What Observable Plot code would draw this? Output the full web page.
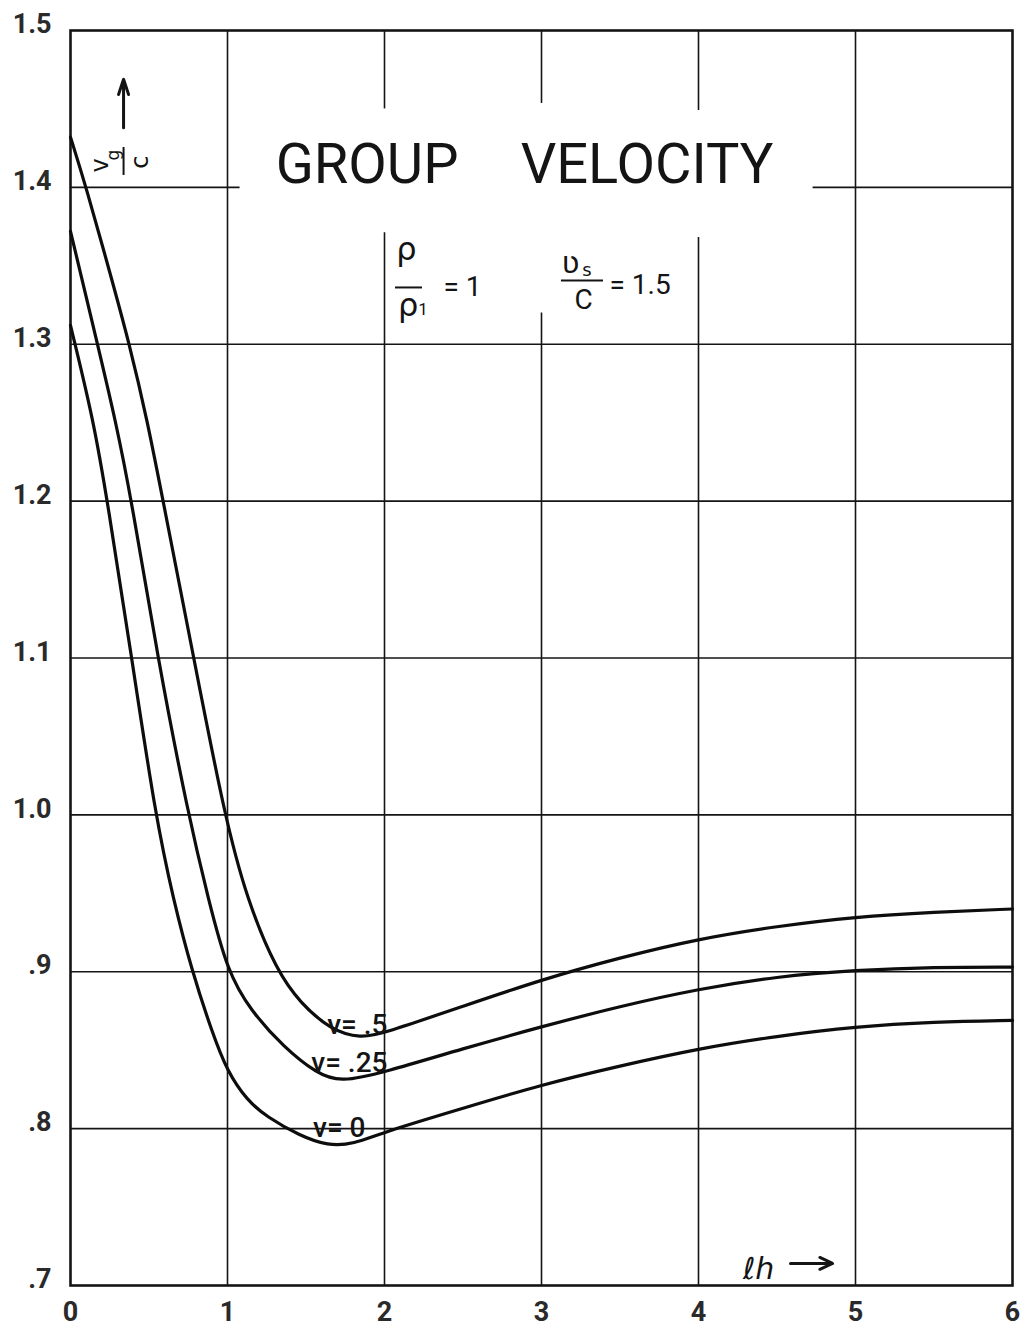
<!DOCTYPE html>
<html>
<head>
<meta charset="utf-8">
<script src="https://cdn.jsdelivr.net/npm/d3@7"></script>
<script src="https://cdn.jsdelivr.net/npm/@observablehq/plot@0.6"></script>
<style>
  html, body { margin: 0; padding: 0; background: #fff; }
  #chart svg { display: block; }
</style>
</head>
<body>
<div id="chart"></div>
<script>
// ---- data ----
const nu05X = [0, 0.1, 0.25, 0.376, 0.49, 0.59, 0.785, 0.98, 1.125, 1.316, 1.465, 1.656, 1.85, 2.0, 2.5, 3.0, 3.5, 4.0, 4.5, 5.0, 5.5, 6.0];
const nu05Y = [1.432, 1.40, 1.346, 1.30, 1.251, 1.20, 1.10, 1.00, 0.9455, 0.90, 0.88, 0.863, 0.8575, 0.861, 0.878, 0.895, 0.909, 0.921, 0.929, 0.935, 0.938, 0.940];

const nu025X = [0, 0.172, 0.287, 0.39, 0.555, 0.75, 0.88, 1.0, 1.146, 1.357, 1.57, 1.72, 2.0, 2.5, 3.0, 3.5, 4.0, 4.5, 5.0, 5.5, 6.0];
const nu025Y = [1.372, 1.30, 1.2514, 1.20, 1.10, 1.00, 0.9455, 0.90, 0.8754, 0.852, 0.835, 0.8295, 0.836, 0.851, 0.865, 0.878, 0.889, 0.897, 0.901, 0.903, 0.903];

const nu0X = [0, 0.147, 0.235, 0.39, 0.54, 0.656, 0.775, 0.9, 1.0, 1.125, 1.25, 1.46, 1.64, 1.8, 2.0, 2.5, 3.0, 3.5, 4.0, 4.5, 5.0, 5.5, 6.0];
const nu0Y = [1.312, 1.2514, 1.20, 1.10, 1.00, 0.9455, 0.90, 0.862, 0.836, 0.818, 0.8075, 0.7955, 0.789, 0.790, 0.798, 0.813, 0.828, 0.840, 0.851, 0.859, 0.865, 0.868, 0.869];

const xTicks = [0, 1, 2, 3, 4, 5, 6];
const yTicks = [0.7, 0.8, 0.9, 1.0, 1.1, 1.2, 1.3, 1.4, 1.5];
const gridXValues = [1, 2, 3, 4, 5];
const gridYValues = [0.8, 0.9, 1.0, 1.1, 1.2, 1.3, 1.4];
// gaps in the grid left blank around the title block
const xGridGaps = [{x: 2, from: 1.371, to: 1.450}, {x: 3, from: 1.320, to: 1.4535}, {x: 4, from: 1.368, to: 1.449}];
const yGridGaps = [{y: 1.4, from: 1.08, to: 4.73}];

// ---- build tables ----
const curves = [
  ...nu05X.map((x, i) => ({nu: "0.5", x, y: nu05Y[i]})),
  ...nu025X.map((x, i) => ({nu: "0.25", x, y: nu025Y[i]})),
  ...nu0X.map((x, i) => ({nu: "0", x, y: nu0Y[i]}))
];

const xSegs = gridXValues.flatMap(x => {
  const g = xGridGaps.find(d => d.x === x);
  return g ? [{x, y1: 0.7, y2: g.from}, {x, y1: g.to, y2: 1.5}] : [{x, y1: 0.7, y2: 1.5}];
});
const ySegs = gridYValues.flatMap(y => {
  const g = yGridGaps.find(d => Math.abs(d.y - y) < 1e-9);
  return g ? [{y, x1: 0, x2: g.from}, {y, x1: g.to, x2: 6}] : [{y, x1: 0, x2: 6}];
});

const ink = "#141414";
const one = [0];

const plot = Plot.plot({
  width: 1022,
  height: 1330,
  marginLeft: 70,
  marginRight: 10,
  marginTop: 30,
  marginBottom: 45,
  style: {fontFamily: "Roboto, 'DejaVu Sans', sans-serif", background: "#fff", color: ink, overflow: "visible"},
  x: {domain: [0, 6]},
  y: {domain: [0.7, 1.5]},
  marks: [
    Plot.ruleX(xSegs, {x: "x", y1: "y1", y2: "y2", stroke: ink, strokeWidth: 1.6}),
    Plot.ruleY(ySegs, {y: "y", x1: "x1", x2: "x2", stroke: ink, strokeWidth: 1.6}),
    Plot.frame({stroke: ink, strokeWidth: 2.6}),
    Plot.line(curves, {x: "x", y: "y", z: "nu", curve: "basis", stroke: "#0d0d0d", strokeWidth: 3.2}),

    // axes
    Plot.axisY({ticks: yTicks, tickSize: 0, tickPadding: 19, dy: -6, label: null,
      tickFormat: d => d >= 1 ? d.toFixed(1) : "." + Math.round(d * 10),
      fontSize: 27, fontWeight: "bold", fill: "#2a2a2a"}),
    Plot.axisX({ticks: xTicks, tickSize: 0, tickPadding: 16, label: null,
      tickFormat: d => String(d), fontSize: 27, fontWeight: "bold", fill: "#2a2a2a"}),

    // title
    Plot.text(one, {x: 1.889, y: 1.414, text: () => "GROUP", fontSize: 56, fill: ink, lineAnchor: "middle"}),
    Plot.text(one, {x: 3.672, y: 1.414, text: () => "VELOCITY", fontSize: 56, fill: ink, lineAnchor: "middle"}),

    // parameter annotation: rho / rho1 = 1
    Plot.text(one, {x: 2.140, y: 1.3604, text: () => "ρ", fontSize: 32, fill: ink, fontFamily: "'DejaVu Sans', sans-serif"}),
    Plot.ruleY(one, {y: 1.3362, x1: 2.070, x2: 2.242, stroke: ink, strokeWidth: 2}),
    Plot.text(one, {x: 2.150, y: 1.3247, text: () => "ρ", fontSize: 32, fill: ink, fontFamily: "'DejaVu Sans', sans-serif"}),
    Plot.text(one, {x: 2.245, y: 1.3222, text: () => "1", fontSize: 17, fill: ink}),
    Plot.text(one, {x: 2.376, y: 1.3362, text: () => "= 1", textAnchor: "start", fontSize: 28, fill: ink}),

    // vs / c = 1.5
    Plot.text(one, {x: 3.185, y: 1.3515, text: () => "ʋ", fontSize: 30, fill: ink, fontFamily: "'DejaVu Sans', sans-serif"}),
    Plot.text(one, {x: 3.290, y: 1.3475, text: () => "s", fontSize: 18, fill: ink, fontFamily: "'DejaVu Sans', sans-serif"}),
    Plot.ruleY(one, {y: 1.3407, x1: 3.127, x2: 3.395, stroke: ink, strokeWidth: 2}),
    Plot.text(one, {x: 3.268, y: 1.3279, text: () => "C", fontSize: 28, fill: ink}),
    Plot.text(one, {x: 3.433, y: 1.3375, text: () => "= 1.5", textAnchor: "start", fontSize: 28, fill: ink}),

    // y-axis label vg/c (rotated) with arrow
    Plot.arrow(one, {x1: 0.338, y1: 1.438, x2: 0.338, y2: 1.469, stroke: ink, strokeWidth: 3, headLength: 18, headAngle: 36}),
    Plot.text(one, {x: 0.191, y: 1.414, text: () => "v", rotate: -90, fontSize: 24, fill: ink, fontFamily: "'DejaVu Sans', sans-serif"}),
    Plot.text(one, {x: 0.274, y: 1.4205, text: () => "g", rotate: -90, fontSize: 17, fill: ink, fontFamily: "'DejaVu Sans', sans-serif"}),
    Plot.ruleX(one, {x: 0.338, y1: 1.4254, y2: 1.4076, stroke: ink, strokeWidth: 2}),
    Plot.text(one, {x: 0.446, y: 1.416, text: () => "c", rotate: -90, fontSize: 24, fill: ink, fontFamily: "'DejaVu Sans', sans-serif"}),

    // x-axis label
    Plot.text(one, {x: 4.382, y: 0.7103, text: () => "ℓh", fontSize: 30, fontStyle: "italic", fill: ink, fontFamily: "'DejaVu Sans', sans-serif"}),
    Plot.arrow(one, {x1: 4.586, y1: 0.7141, x2: 4.854, y2: 0.7141, stroke: ink, strokeWidth: 3, headLength: 12, headAngle: 50}),

    // curve labels
    Plot.text(one, {x: 2.019, y: 0.8658, text: () => "ν= .5", textAnchor: "end", fontSize: 28, fontWeight: 500, fill: ink}),
    Plot.text(one, {x: 2.019, y: 0.8416, text: () => "ν= .25", textAnchor: "end", fontSize: 28, fontWeight: 500, fill: ink}),
    Plot.text(one, {x: 1.879, y: 0.8002, text: () => "ν= 0", textAnchor: "end", fontSize: 28, fontWeight: 500, fill: ink})
  ]
});

document.getElementById("chart").appendChild(plot);
</script>
</body>
</html>
